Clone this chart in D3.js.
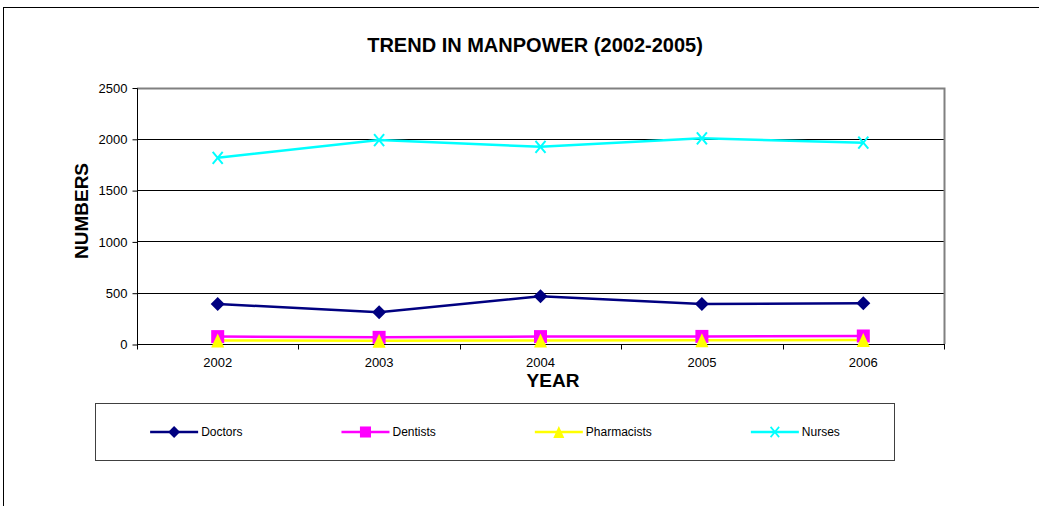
<html>
<head>
<meta charset="utf-8">
<script src="https://d3js.org/d3.v7.min.js"></script>
<style>
body { margin: 0; background: #fff; }
svg text { font-family: "Liberation Sans", Arial, sans-serif; fill: #000; }
.tick text { font-size: 13px; }
.title { font-size: 20px; font-weight: bold; }
.axislabel { font-size: 19px; font-weight: bold; }
.legend text { font-size: 12px; }
</style>
</head>
<body>
<script type="text/javascript">

// chart data
var years = ["2002", "2003", "2004", "2005", "2006"];
var doctors = [390, 310, 465, 390, 397];
var dentists = [72, 65, 72, 74, 78];
var pharmacists = [35, 32, 35, 36, 38];
var nurses = [1815, 1988, 1922, 2005, 1962];
var yTicks = [0, 500, 1000, 1500, 2000, 2500];

var seriesNames = ["Doctors", "Dentists", "Pharmacists", "Nurses"];
var seriesValues = [doctors, dentists, pharmacists, nurses];

// display settings
var W = 1039, H = 506;
var plot = {left: 137, right: 944, top: 87.5, bottom: 344};
var colors = ["#000080", "#ff00ff", "#ffff00", "#00ffff"];

// marker shapes, drawn round (0,0)
var markers = [
    function(g) { g.append("path").attr("d", "M0,-7L7,0L0,7L-7,0Z").attr("fill", colors[0]); },
    function(g) { g.append("rect").attr("x", -6.5).attr("y", -6.5).attr("width", 13).attr("height", 13).attr("fill", colors[1]); },
    function(g) { g.append("path").attr("d", "M0,-7L6.5,7L-6.5,7Z").attr("fill", colors[2]); },
    function(g) { g.append("path").attr("d", "M-5,-6L5,6M5,-6L-5,6").attr("stroke", colors[3]).attr("stroke-width", 2).attr("fill", "none"); }
];

var svg = d3.select("body").append("svg")
    .attr("width", W)
    .attr("height", H);

// outer chart frame
svg.append("rect")
    .attr("x", 3.5).attr("y", 7.5)
    .attr("width", W + 50).attr("height", H + 50)
    .attr("fill", "none").attr("stroke", "#000");

// title
svg.append("text")
    .attr("class", "title")
    .attr("x", 535).attr("y", 52)
    .attr("text-anchor", "middle")
    .text("TREND IN MANPOWER (2002-2005)");

// scales
var x = d3.scaleBand()
    .domain(years)
    .range([plot.left, plot.right]);

var y = d3.scaleLinear()
    .domain([0, 2500])
    .range([plot.bottom, plot.top]);

// gridlines
svg.append("g")
    .selectAll("line")
    .data(yTicks.filter(function(d) { return d > 0 && d < 2500; }))
  .enter().append("line")
    .attr("x1", plot.left).attr("x2", plot.right)
    .attr("y1", function(d) { return Math.round(y(d)) + 0.5; })
    .attr("y2", function(d) { return Math.round(y(d)) + 0.5; })
    .attr("stroke", "#000");

// plot border (top, right)
svg.append("path")
    .attr("d", "M" + plot.left + "," + (Math.round(plot.top) + 0.5) + "H" + (plot.right + 0.5) + "V" + plot.bottom)
    .attr("fill", "none")
    .attr("stroke", "#808080")
    .attr("stroke-width", 2);

// y axis
var yAxis = svg.append("g")
    .attr("transform", "translate(" + (plot.left + 0.5) + ",0.5)")
    .call(d3.axisLeft(y).tickValues(yTicks).tickSize(5).tickPadding(5).tickFormat(d3.format("d")));
yAxis.select(".domain").attr("stroke", "#000").attr("d", "M0," + Math.round(plot.top) + "V" + Math.round(plot.bottom));

// x axis
var xAxis = svg.append("g")
    .attr("transform", "translate(0," + (plot.bottom + 0.5) + ")")
    .call(d3.axisBottom(x).tickSize(0).tickPadding(13));
xAxis.select(".domain").remove();
xAxis.append("line")
    .attr("x1", plot.left).attr("x2", plot.right + 1)
    .attr("stroke", "#000");
xAxis.selectAll(".edge")
    .data(years.concat(["end"]))
  .enter().append("line")
    .attr("class", "edge")
    .attr("x1", function(d, i) { return Math.round(i < years.length ? x(d) : plot.right) + 0.5; })
    .attr("x2", function(d, i) { return Math.round(i < years.length ? x(d) : plot.right) + 0.5; })
    .attr("y1", 0).attr("y2", 5)
    .attr("stroke", "#000");

// axis titles
svg.append("text")
    .attr("class", "axislabel")
    .attr("x", 553).attr("y", 387)
    .attr("text-anchor", "middle")
    .text("YEAR");

svg.append("text")
    .attr("class", "axislabel")
    .attr("transform", "translate(88,211) rotate(-90)")
    .attr("text-anchor", "middle")
    .text("NUMBERS");

// series lines and markers
var line = d3.line()
    .x(function(d, i) { return x(years[i]) + x.bandwidth() / 2; })
    .y(function(d) { return y(d); });

seriesValues.forEach(function(vals, s) {
    svg.append("path")
        .datum(vals)
        .attr("d", line)
        .attr("fill", "none")
        .attr("stroke", colors[s])
        .attr("stroke-width", 2.5);
});

seriesValues.forEach(function(vals, s) {
    svg.append("g").selectAll("g")
        .data(vals)
      .enter().append("g")
        .attr("transform", function(d, i) { return "translate(" + (x(years[i]) + x.bandwidth() / 2) + "," + y(d) + ")"; })
        .each(function() { markers[s](d3.select(this)); });
});

// legend
var legend = svg.append("g").attr("class", "legend");
legend.append("rect")
    .attr("x", 95.5).attr("y", 403.5)
    .attr("width", 799).attr("height", 57)
    .attr("fill", "#fff").attr("stroke", "#404040");

var items = legend.selectAll(".item")
    .data(seriesNames)
  .enter().append("g")
    .attr("class", "item");

items.append("line")
    .attr("x1", 0).attr("x2", 48)
    .attr("stroke", function(d, i) { return colors[i]; })
    .attr("stroke-width", 2.5);

items.append("g")
    .attr("transform", "translate(24,0) scale(0.85)")
    .each(function(d, i) { markers[i](d3.select(this)); });

items.append("text")
    .attr("x", 51).attr("dy", "0.35em")
    .text(function(d) { return d; });

// spread items across the box
var gap = 99;
var widths = [];
items.each(function() { widths.push(this.getBBox().width); });
var total = d3.sum(widths) + gap * (widths.length - 1);
var cx = 95.5 + (799 - total) / 2;
items.attr("transform", function(d, i) {
    var pos = cx;
    cx += widths[i] + gap;
    return "translate(" + pos + ",432)";
});

</script>
</body>
</html>
